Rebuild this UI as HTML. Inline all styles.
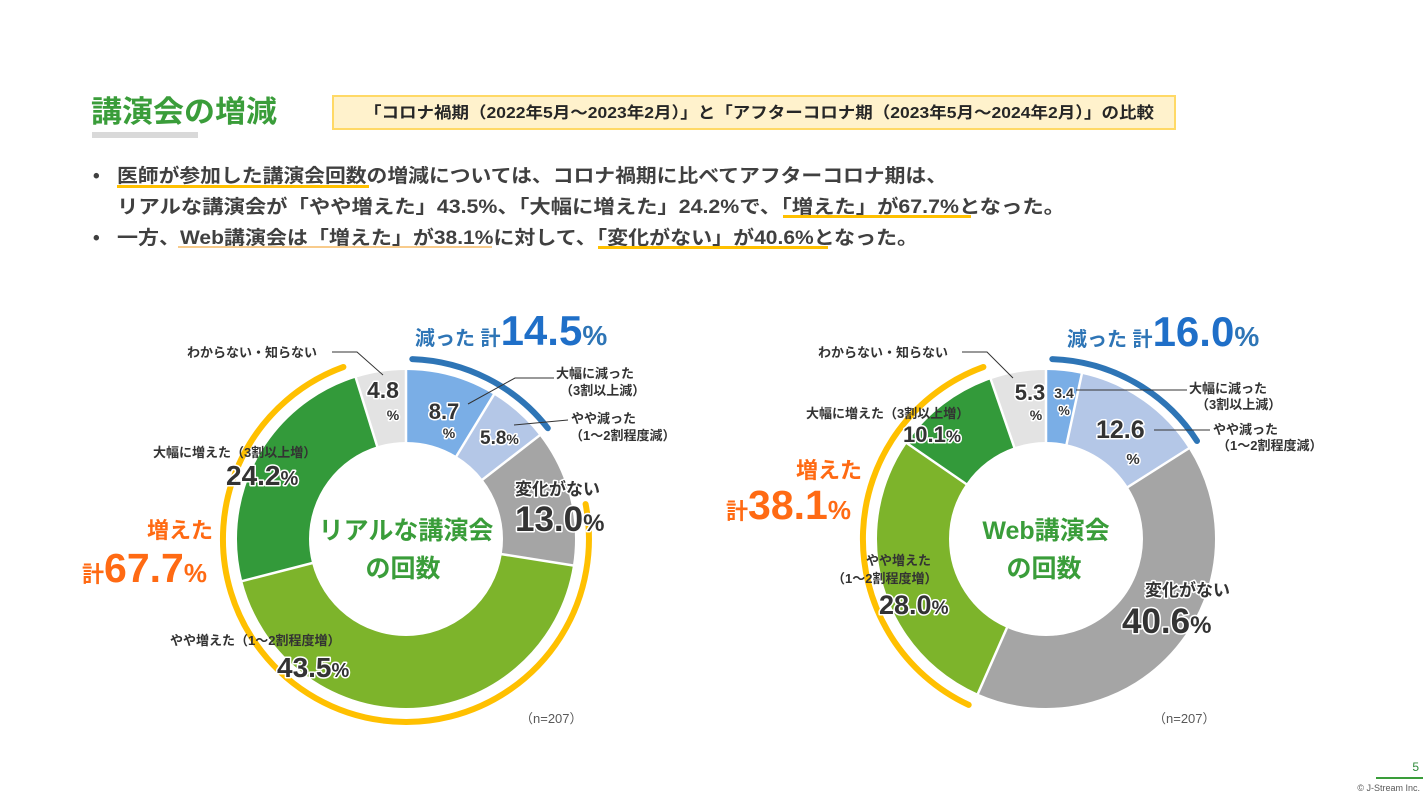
<!DOCTYPE html>
<html><head><meta charset="utf-8"><style>
html,body{margin:0;padding:0;background:#fff;}
svg{display:block;}
text{font-family:"Liberation Sans","Noto Sans CJK JP",sans-serif;}
.n{font-weight:bold;fill:#333;paint-order:stroke;stroke:#fff;stroke-width:3px;stroke-linejoin:round;}
.l{fill:#333;font-size:13px;font-weight:bold;}
</style></head><body>
<svg width="1426" height="796" viewBox="0 0 1426 796" xmlns="http://www.w3.org/2000/svg">
<!-- header -->
<text x="91" y="122" font-size="30" font-weight="bold" fill="#3a9d3a" textLength="186" lengthAdjust="spacingAndGlyphs">講演会の増減</text>
<rect x="92" y="132" width="106" height="6" fill="#d9d9d9"/>
<rect x="333" y="96" width="842" height="33" fill="#fff2cc" stroke="#ffd966" stroke-width="2"/>
<text x="364" y="118" font-size="16" font-weight="bold" fill="#262626" textLength="790" lengthAdjust="spacingAndGlyphs">「コロナ禍期（2022年5月～2023年2月）」と「アフターコロナ期（2023年5月～2024年2月）」の比較</text>
<g font-size="19" font-weight="bold" fill="#404040">
<text x="93" y="182">•</text>
<text x="117" y="182" textLength="830" lengthAdjust="spacingAndGlyphs">医師が参加した講演会回数の増減については、コロナ禍期に比べてアフターコロナ期は、</text>
<text x="117" y="213" textLength="948" lengthAdjust="spacingAndGlyphs">リアルな講演会が「やや増えた」43.5%、「大幅に増えた」24.2%で、「増えた」が67.7%となった。</text>
<text x="93" y="244">•</text>
<text x="117" y="244" textLength="801" lengthAdjust="spacingAndGlyphs">一方、Web講演会は「増えた」が38.1%に対して、「変化がない」が40.6%となった。</text>
</g>
<g fill="#ffc000">
<rect x="117" y="185" width="252" height="3"/>
<rect x="783" y="215" width="188" height="3"/>
<rect x="178" y="246" width="314" height="2" fill="#f8cb8c"/>
<rect x="598" y="246" width="230" height="3"/>
</g>

<!-- left donut -->
<g transform="translate(406,539)">
<g transform="rotate(-90)" fill="none" stroke-width="72">
<circle r="133" stroke="#7aaee6" stroke-dasharray="72.70 835.66" stroke-dashoffset="0"/>
<circle r="133" stroke="#b4c7e7" stroke-dasharray="48.47 835.66" stroke-dashoffset="-72.70"/>
<circle r="133" stroke="#a5a5a5" stroke-dasharray="108.64 835.66" stroke-dashoffset="-121.17"/>
<circle r="133" stroke="#7db42b" stroke-dasharray="363.51 835.66" stroke-dashoffset="-229.81"/>
<circle r="133" stroke="#339a3a" stroke-dasharray="202.23 835.66" stroke-dashoffset="-593.32"/>
<circle r="133" stroke="#e3e3e3" stroke-dasharray="40.11 835.66" stroke-dashoffset="-795.55"/>
</g>
<g stroke="#fff" stroke-width="2.5">
<line x1="0" y1="-95" x2="0" y2="-171"/>
<line x1="0" y1="-95" x2="0" y2="-171" transform="rotate(31.32)"/>
<line x1="0" y1="-95" x2="0" y2="-171" transform="rotate(52.2)"/>
<line x1="0" y1="-95" x2="0" y2="-171" transform="rotate(99)"/>
<line x1="0" y1="-95" x2="0" y2="-171" transform="rotate(255.6)"/>
<line x1="0" y1="-95" x2="0" y2="-171" transform="rotate(342.72)"/>
</g>
<path d="M 179.6 -34.9 A 183 183 0 1 1 -62.6 -172" fill="none" stroke="#ffc000" stroke-width="6" stroke-linecap="round"/>
<path d="M 6.3 -179.9 A 180 180 0 0 1 141.8 -110.8" fill="none" stroke="#2e75b6" stroke-width="6" stroke-linecap="round"/>
</g>
<text x="406" y="539" text-anchor="middle" font-size="25" font-weight="bold" fill="#3a9d3a">リアルな講演会</text>
<text x="403" y="577" text-anchor="middle" font-size="25" font-weight="bold" fill="#3a9d3a">の回数</text>

<text x="415" y="345" font-size="20" font-weight="bold" fill="#2e75b6">減った 計<tspan font-size="42" fill="#1f6fc8">14.5</tspan><tspan font-size="28">%</tspan></text>
<text x="187" y="357" class="l" font-weight="normal">わからない・知らない</text>
<polyline points="332,352 357,352 383,375" fill="none" stroke="#333" stroke-width="1"/>
<text x="383" y="398" text-anchor="middle" class="n" font-size="23">4.8</text>
<text x="393" y="420" text-anchor="middle" class="n" font-size="14">%</text>
<text x="444" y="419" text-anchor="middle" class="n" font-size="22">8.7</text>
<text x="449" y="438" text-anchor="middle" class="n" font-size="14">%</text>
<polyline points="468,404 515,378 554,378" fill="none" stroke="#333" stroke-width="1"/>
<text x="556" y="378" class="l" font-weight="normal">大幅に減った</text>
<text x="560" y="395" class="l" font-weight="normal">（3割以上減）</text>
<text x="480" y="444" class="n" font-size="19">5.8<tspan font-size="14">%</tspan></text>
<polyline points="514,425 568,420" fill="none" stroke="#333" stroke-width="1"/>
<text x="571" y="423" class="l" font-weight="normal">やや減った</text>
<text x="570" y="440" class="l" font-weight="normal">（1～2割程度減）</text>
<text x="515" y="495" class="n" font-size="17">変化がない</text>
<text x="515" y="531" class="n" font-size="35">13.0<tspan font-size="24">%</tspan></text>
<text x="153" y="457" class="l">大幅に増えた（3割以上増）</text>
<text x="226" y="485" class="n" font-size="28">24.2<tspan font-size="20">%</tspan></text>
<text x="147" y="538" font-size="22" font-weight="bold" fill="#ff6a13">増えた</text>
<text x="82" y="582" font-size="22" font-weight="bold" fill="#ff6a13">計<tspan font-size="41">67.7</tspan><tspan font-size="26">%</tspan></text>
<text x="170" y="645" class="l">やや増えた（1～2割程度増）</text>
<text x="277" y="677" class="n" font-size="28">43.5<tspan font-size="20">%</tspan></text>
<text x="520" y="723" font-size="13" fill="#595959">（n=207）</text>

<!-- right donut -->
<g transform="translate(1046,539)">
<g transform="rotate(-90)" fill="none" stroke-width="72">
<circle r="133" stroke="#7aaee6" stroke-dasharray="28.41 835.66" stroke-dashoffset="0"/>
<circle r="133" stroke="#b4c7e7" stroke-dasharray="105.29 835.66" stroke-dashoffset="-28.41"/>
<circle r="133" stroke="#a5a5a5" stroke-dasharray="339.28 835.66" stroke-dashoffset="-133.71"/>
<circle r="133" stroke="#7db42b" stroke-dasharray="233.98 835.66" stroke-dashoffset="-472.98"/>
<circle r="133" stroke="#339a3a" stroke-dasharray="84.40 835.66" stroke-dashoffset="-706.96"/>
<circle r="133" stroke="#e3e3e3" stroke-dasharray="44.29 835.66" stroke-dashoffset="-791.37"/>
</g>
<g stroke="#fff" stroke-width="2.5">
<line x1="0" y1="-95" x2="0" y2="-171"/>
<line x1="0" y1="-95" x2="0" y2="-171" transform="rotate(12.24)"/>
<line x1="0" y1="-95" x2="0" y2="-171" transform="rotate(57.6)"/>
<line x1="0" y1="-95" x2="0" y2="-171" transform="rotate(203.76)"/>
<line x1="0" y1="-95" x2="0" y2="-171" transform="rotate(304.56)"/>
<line x1="0" y1="-95" x2="0" y2="-171" transform="rotate(340.92)"/>
</g>
<path d="M -77.3 165.9 A 183 183 0 0 1 -62.6 -172" fill="none" stroke="#ffc000" stroke-width="6" stroke-linecap="round"/>
<path d="M 6.3 -179.9 A 180 180 0 0 1 151 -98" fill="none" stroke="#2e75b6" stroke-width="6" stroke-linecap="round"/>
</g>
<text x="1046" y="539" text-anchor="middle" font-size="25" font-weight="bold" fill="#3a9d3a">Web講演会</text>
<text x="1044" y="577" text-anchor="middle" font-size="25" font-weight="bold" fill="#3a9d3a">の回数</text>

<text x="1067" y="346" font-size="20" font-weight="bold" fill="#2e75b6">減った 計<tspan font-size="42" fill="#1f6fc8">16.0</tspan><tspan font-size="28">%</tspan></text>
<text x="818" y="357" class="l" font-weight="normal">わからない・知らない</text>
<polyline points="962,352 987,352 1013,378" fill="none" stroke="#333" stroke-width="1"/>
<text x="1030" y="400" text-anchor="middle" class="n" font-size="22">5.3</text>
<text x="1036" y="420" text-anchor="middle" class="n" font-size="14">%</text>
<text x="1064" y="398" text-anchor="middle" class="n" font-size="14">3.4</text>
<text x="1064" y="415" text-anchor="middle" class="n" font-size="13">%</text>
<line x1="1076" y1="390" x2="1187" y2="390" stroke="#333" stroke-width="1"/>
<text x="1189" y="393" class="l" font-weight="normal">大幅に減った</text>
<text x="1196" y="409" class="l" font-weight="normal">（3割以上減）</text>
<text x="1096" y="438" class="n" font-size="25">12.6</text>
<text x="1133" y="464" text-anchor="middle" class="n" font-size="15">%</text>
<line x1="1154" y1="430" x2="1210" y2="430" stroke="#333" stroke-width="1"/>
<text x="1213" y="434" class="l" font-weight="normal">やや減った</text>
<text x="1217" y="450" class="l" font-weight="normal">（1～2割程度減）</text>
<text x="806" y="418" class="l">大幅に増えた（3割以上増）</text>
<text x="903" y="442" class="n" font-size="22">10.1<tspan font-size="17">%</tspan></text>
<text x="796" y="478" font-size="22" font-weight="bold" fill="#ff6a13">増えた</text>
<text x="726" y="519" font-size="22" font-weight="bold" fill="#ff6a13">計<tspan font-size="41">38.1</tspan><tspan font-size="26">%</tspan></text>
<text x="866" y="565" class="l">やや増えた</text>
<text x="832" y="583" class="l">（1～2割程度増）</text>
<text x="879" y="614" class="n" font-size="27">28.0<tspan font-size="19">%</tspan></text>
<text x="1145" y="596" class="n" font-size="17">変化がない</text>
<text x="1122" y="633" class="n" font-size="35">40.6<tspan font-size="24">%</tspan></text>
<text x="1153" y="723" font-size="13" fill="#595959">（n=207）</text>

<!-- footer -->
<text x="1419" y="771" text-anchor="end" font-size="12" fill="#2e8b3a">5</text>
<rect x="1376" y="777" width="47" height="2" fill="#3a9d3a"/>
<text x="1420" y="791" text-anchor="end" font-size="9" fill="#595959">© J-Stream Inc.</text>
</svg>
</body></html>
